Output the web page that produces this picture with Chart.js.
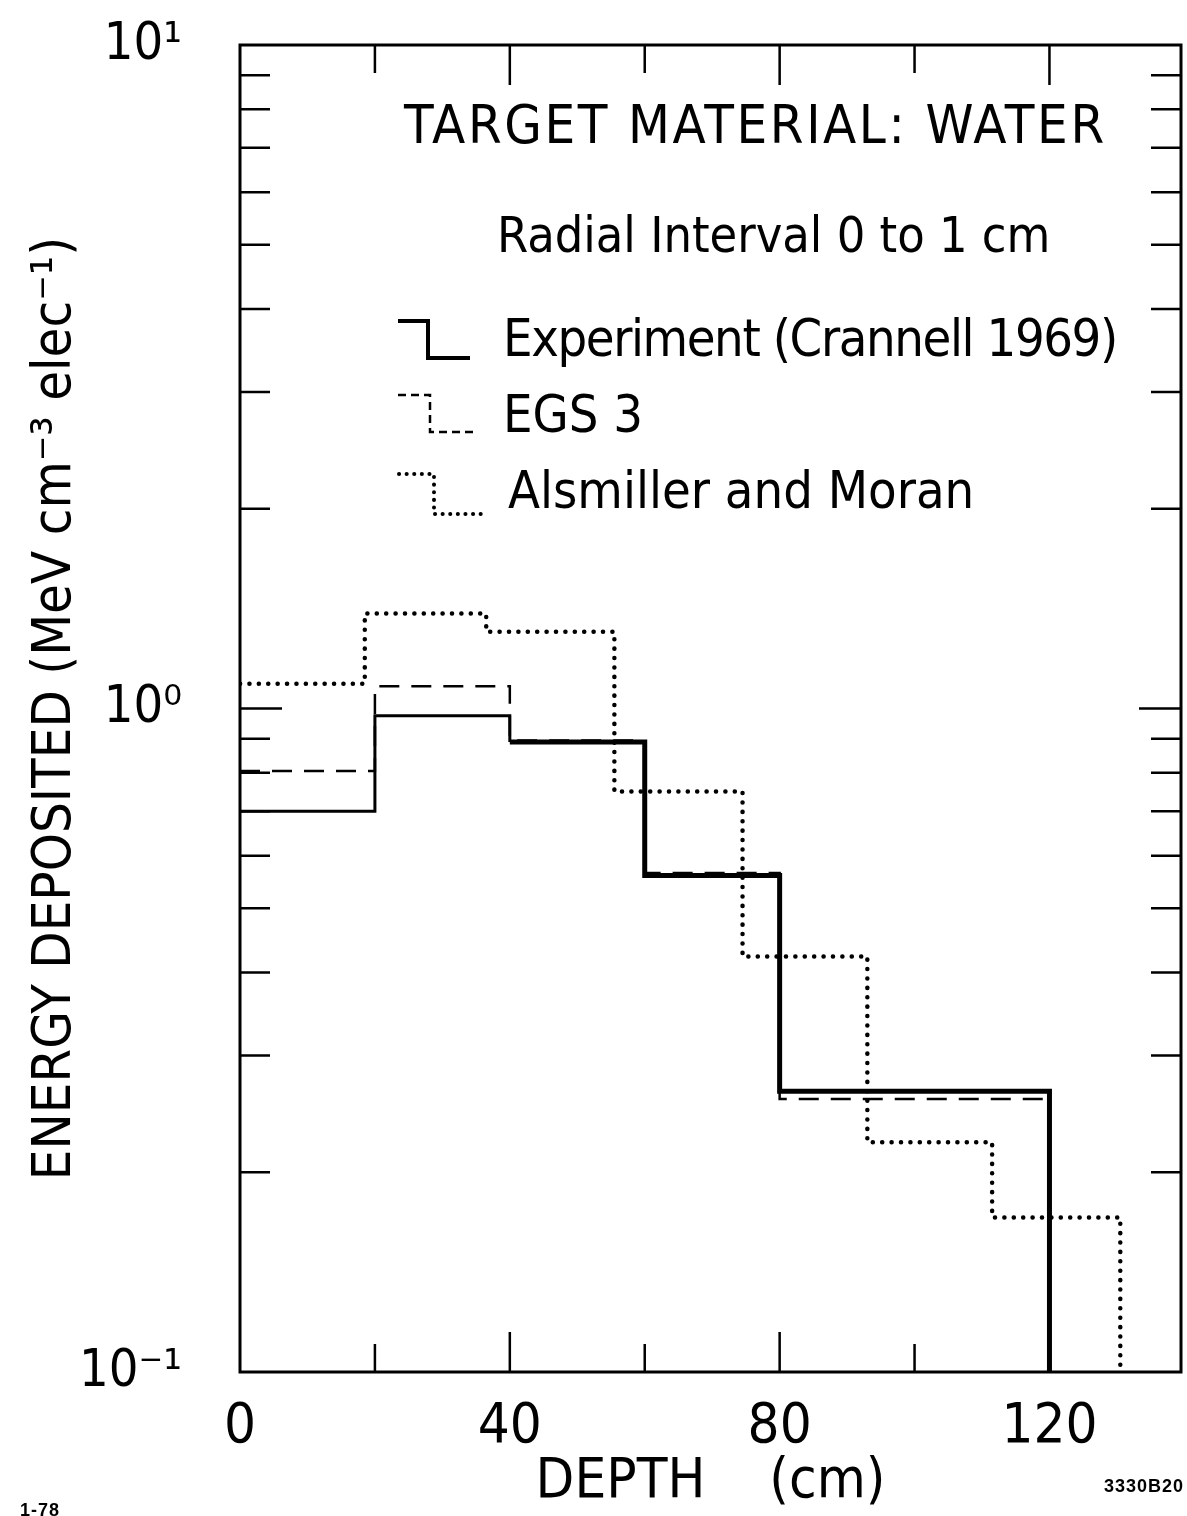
<!DOCTYPE html>
<html>
<head>
<meta charset="utf-8">
<script src="https://cdn.jsdelivr.net/npm/chart.js@4.4.0/dist/chart.umd.min.js"></script>
<style>
  html, body { margin: 0; padding: 0; background: #fff; }
  #wrap { position: relative; width: 1187px; height: 1516px; overflow: hidden; }
  #myChart { position: absolute; left: 0; top: 0; }
  .note { position: absolute; white-space: nowrap; color: #000; line-height: 1;
          font-family: "DejaVu Sans Condensed", "Liberation Sans Narrow", "Liberation Sans", sans-serif; }
  .key { position: absolute; }
  .tag { position: absolute; font: bold 18px "Liberation Sans", sans-serif; color: #000; letter-spacing: 1px; }
</style>
</head>
<body>
<div id="wrap">
  <canvas id="myChart" width="1187" height="1516"></canvas>

  <div class="note" style="left:404px; top:98px; font-size:54px; letter-spacing:2.6px;">TARGET MATERIAL: WATER</div>
  <div class="note" style="left:497px; top:210px; font-size:50px;">Radial Interval 0 to 1 cm</div>

  <svg class="key" style="left:396px; top:318px;" width="80" height="46">
    <path d="M2 3 H32 V40 H74" fill="none" stroke="#000" stroke-width="4"/>
  </svg>
  <div class="note" style="left:503px; top:312px; font-size:52px; letter-spacing:-1.4px;">Experiment (Crannell 1969)</div>

  <svg class="key" style="left:396px; top:392px;" width="86" height="46">
    <path d="M2 3 H34 V40 H80" fill="none" stroke="#000" stroke-width="2.5" stroke-dasharray="8 5"/>
  </svg>
  <div class="note" style="left:503px; top:388px; font-size:52px;">EGS 3</div>

  <svg class="key" style="left:396px; top:470px;" width="90" height="50">
    <path d="M3 4 H38 V44 H86" fill="none" stroke="#000" stroke-width="4" stroke-linecap="round" stroke-dasharray="0.1 7.5"/>
  </svg>
  <div class="note" style="left:508px; top:464px; font-size:52px;">Alsmiller and Moran</div>

  <div class="tag" style="left:20px; top:1500px;">1-78</div>
  <div class="tag" style="left:1104px; top:1476px;">3330B20</div>
</div>

<script>
// DADOS DO GRÁFICO

const yFloor = 0.1;

const expEdges = [0, 20, 40, 60, 80, 120];
const expValues = [0.70, 0.975, 0.89, 0.56, 0.265];

const egsEdges = [0, 20, 40, 60, 80, 120];
const egsValues = [0.805, 1.08, 0.895, 0.565, 0.258];

const amEdges = [0, 18.5, 36.5, 55.5, 74.5, 93, 111.5, 130.5];
const amValues = [1.09, 1.39, 1.305, 0.75, 0.423, 0.222, 0.171];

const xTicks = [20, 40, 60, 80, 100, 120];
const xLabels = [0, 40, 80, 120];
const yLabelTicks = [0.1, 1, 10];
const yLabels = ['10\u207B\u00B9', '10\u2070', '10\u00B9'];

const fontFamily = '"DejaVu Sans Condensed", "Liberation Sans Narrow", "Liberation Sans", sans-serif';

// histogram: each bin value starts at its left edge, last edge drops to the floor
function steps(edges, values) {
    const pts = values.map((v, i) => ({ x: edges[i], y: v }));
    pts.push({ x: edges[edges.length - 1], y: yFloor });
    return pts;
}

// minor log ticks 0.2..0.9 and 2..9
const yMinor = [];
[0.1, 1].forEach(d => {
    for (let k = 2; k <= 9; k++) yMinor.push(k * d);
});

// MOLDURA E TRACINHOS PARA DENTRO
const frame = {
    id: 'frame',
    afterDatasetsDraw(chart) {
        const { ctx, chartArea: a, scales: { x, y } } = chart;
        ctx.save();
        ctx.strokeStyle = '#000';
        ctx.lineWidth = 3;
        ctx.strokeRect(a.left, a.top, a.right - a.left, a.bottom - a.top);

        ctx.lineWidth = 2.5;
        ctx.beginPath();
        xTicks.forEach(v => {
            const px = x.getPixelForValue(v);
            const len = v % 40 === 0 ? 40 : 28;
            ctx.moveTo(px, a.bottom);
            ctx.lineTo(px, a.bottom - len);
            ctx.moveTo(px, a.top);
            ctx.lineTo(px, a.top + len);
        });
        yMinor.forEach(v => {
            const py = y.getPixelForValue(v);
            ctx.moveTo(a.left, py);
            ctx.lineTo(a.left + 30, py);
            ctx.moveTo(a.right, py);
            ctx.lineTo(a.right - 30, py);
        });
        const p1 = y.getPixelForValue(1);
        ctx.moveTo(a.left, p1);
        ctx.lineTo(a.left + 42, p1);
        ctx.moveTo(a.right, p1);
        ctx.lineTo(a.right - 42, p1);
        ctx.stroke();
        ctx.restore();
    }
};

const ctx = document.getElementById('myChart').getContext('2d');
const myChart = new Chart(ctx, {
    type: 'line',
    data: {
        datasets: [
        {
            label: 'Experiment (Crannell 1969)',
            data: steps(expEdges, expValues),
            borderColor: '#000',
            borderWidth: 4.5,
            stepped: 'before',
            pointRadius: 0,
            segment: {
                borderWidth: c => c.p0DataIndex < 2 ? 3 : 5
            }
        },
        {
            label: 'EGS 3',
            data: steps(egsEdges, egsValues),
            borderColor: '#000',
            borderWidth: 2.5,
            borderDash: [20, 12],
            stepped: 'before',
            pointRadius: 0
        },
        {
            label: 'Alsmiller and Moran',
            data: steps(amEdges, amValues),
            borderColor: '#000',
            borderWidth: 4.5,
            borderDash: [0.1, 9.3],
            borderCapStyle: 'round',
            stepped: 'before',
            pointRadius: 0
        }
        ]
    },
    options: {
        responsive: false,
        devicePixelRatio: 1,
        animation: false,
        layout: { padding: { top: 45, right: 6, left: 0, bottom: 0 } },
        plugins: {
            legend: { display: false },
            tooltip: { enabled: false }
        },
        scales: {
            x: {
                type: 'linear',
                min: 0,
                max: 139.5,
                grid: { display: false },
                border: { display: false },
                afterBuildTicks: s => { s.ticks = xLabels.map(v => ({ value: v })); },
                afterFit: s => { s.height = 144; },
                ticks: {
                    color: '#000',
                    padding: 14,
                    maxRotation: 0,
                    font: { family: fontFamily, size: 56 }
                },
                title: {
                    display: true,
                    text: 'DEPTH    (cm)',
                    color: '#000',
                    padding: { top: 0, bottom: 0 },
                    font: { family: fontFamily, size: 56 }
                }
            },
            y: {
                type: 'logarithmic',
                min: 0.1,
                max: 10,
                grid: { display: false },
                border: { display: false },
                afterBuildTicks: s => { s.ticks = yLabelTicks.map(v => ({ value: v, major: true })); },
                afterFit: s => {
                    s.width = 240;
                    s.paddingTop = 0;
                    s.paddingBottom = 0;
                },
                ticks: {
                    color: '#000',
                    padding: 50,
                    font: { family: fontFamily, size: 52 },
                    callback: (value, index) => yLabels[index]
                },
                title: {
                    display: true,
                    text: 'ENERGY DEPOSITED (MeV cm\u207B\u00B3 elec\u207B\u00B9)',
                    color: '#000',
                    padding: { top: 24, bottom: 0 },
                    font: { family: fontFamily, size: 54 }
                }
            }
        }
    },
    plugins: [frame]
});
</script>
</body>
</html>
